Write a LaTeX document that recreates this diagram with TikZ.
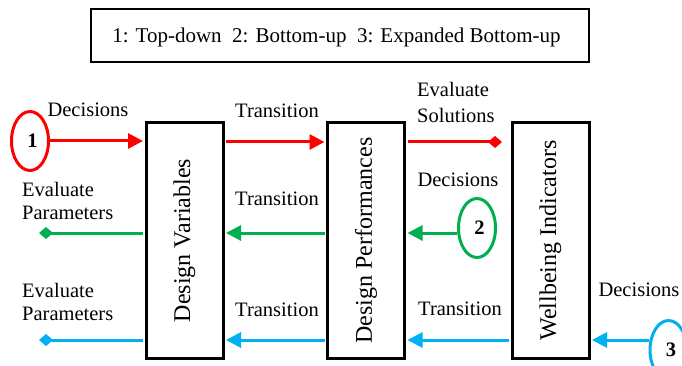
\documentclass[tikz,border=0pt]{standalone}
\usepackage{fontspec}
\setmainfont{Liberation Serif}
\usetikzlibrary{arrows.meta,shapes.geometric}
\definecolor{cred}{RGB}{255,0,0}
\definecolor{cgreen}{RGB}{0,176,80}
\definecolor{cblue}{RGB}{0,176,240}
\begin{document}
\begin{tikzpicture}[x=1pt,y=-1pt,
  box/.style={draw, line width=3pt, minimum width=77pt, minimum height=235pt, inner sep=0pt, font=\fontsize{24}{26}\selectfont},
  lbl/.style={font=\fontsize{20.5}{22.5}\selectfont, inner sep=0pt},
  ell/.style={ellipse, draw, line width=3pt, minimum width=37pt, minimum height=59pt, inner sep=0pt, font=\fontsize{20.5}{23}\selectfont\bfseries},
  conn/.style={line width=3pt},
  tri/.style={-{Triangle[length=15pt,width=15pt]}},
  dia/.style={-{Diamond[length=14pt,width=12pt]}}
]
\useasboundingbox (0,0) rectangle (682,366);
\clip (0,0) rectangle (682,366);

% legend
\node[draw, line width=1.8pt, minimum width=498pt, minimum height=53pt, inner sep=0pt] (legend) at (340,35.5) {};
\node[lbl, font=\fontsize{21}{23}\selectfont] (legendtext) at (336.5,37) {1: Top-down\ \ 2: Bottom-up\ \ 3: Expanded Bottom-up};

% boxes
\node[box] (b1) at (184.5,240.5) {\rotatebox{90}{Design Variables}};
\node[box] (b2) at (366,240.5) {\rotatebox{90}{Design Performances}};
\node[box] (b3) at (550.5,240.5) {\rotatebox{90}{Wellbeing Indicators}};

% ellipses
\node[ell, draw=cred] (e1) at (30,141) {\hspace*{5pt}1};
\node[ell, draw=cgreen] (e2) at (477,228) {\hspace*{5pt}2};
\node[ell, draw=cblue] (e3) at (668.5,350) {\hspace*{5pt}3};

% row coordinates
\coordinate (rrow) at (0,142);
\coordinate (grow) at (0,233);
\coordinate (brow) at (0,340);
\coordinate (rdia) at (502,142);
\coordinate (gdia) at (39,233);
\coordinate (bdia) at (39,340);

% red (top-down)
\draw[conn, cred, tri, shorten >=1.5pt] (e1.east) -- (e1.east -| b1.west);
\draw[conn, cred, tri, shorten >=1.5pt, shorten <=1.5pt] (b1.east |- rrow) -- (b2.west |- rrow);
\draw[conn, cred, dia, shorten <=1.5pt] (b2.east |- rrow) -- (rdia);

% green (bottom-up)
\draw[conn, cgreen, tri, shorten >=1.5pt] (e2.west |- grow) -- (b2.east |- grow);
\draw[conn, cgreen, tri, shorten >=1.5pt, shorten <=1.5pt] (b2.west |- grow) -- (b1.east |- grow);
\draw[conn, cgreen, dia, shorten <=1.5pt] (b1.west |- grow) -- (gdia);

% blue (expanded bottom-up)
\draw[conn, cblue, tri, shorten >=1.5pt] (e3.west |- brow) -- (b3.east |- brow);
\draw[conn, cblue, tri, shorten >=1.5pt, shorten <=1.5pt] (b3.west |- brow) -- (b2.east |- brow);
\draw[conn, cblue, tri, shorten >=1.5pt, shorten <=1.5pt] (b2.west |- brow) -- (b1.east |- brow);
\draw[conn, cblue, dia, shorten <=1.5pt] (b1.west |- brow) -- (bdia);

% labels
\node[lbl] (dec1) at (88,110) {Decisions};
\node[lbl] (tr1) at (277,111) {Transition};
\node[lbl, anchor=west, align=left, font=\fontsize{20.5}{25.5}\selectfont] (evsol) at (417,102.5) {Evaluate\\Solutions};
\node[lbl, anchor=west, align=left] (evpar1) at (22,201) {Evaluate\\Parameters};
\node[lbl] (tr2) at (277,199) {Transition};
\node[lbl] (dec2) at (458,180) {Decisions};
\node[lbl, anchor=west, align=left] (evpar2) at (22,302) {Evaluate\\Parameters};
\node[lbl] (tr3) at (277,310) {Transition};
\node[lbl] (tr4) at (460,309) {Transition};
\node[lbl] (dec3) at (639,290) {Decisions};
\end{tikzpicture}
\end{document}
